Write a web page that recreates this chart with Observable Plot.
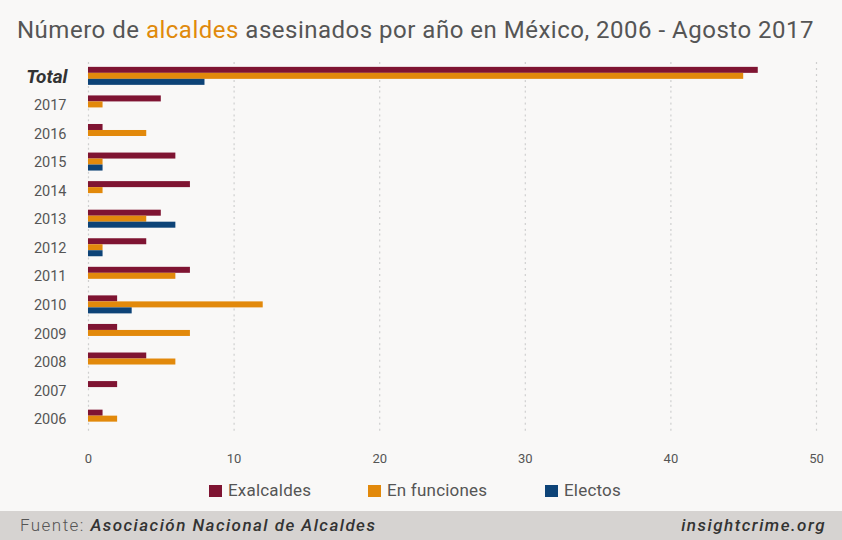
<!DOCTYPE html>
<html>
<head>
<meta charset="utf-8">
<script src="https://cdn.jsdelivr.net/npm/d3@7"></script>
<script src="https://cdn.jsdelivr.net/npm/@observablehq/plot@0.6"></script>
<style>
  html, body { margin: 0; padding: 0; }
  body { width: 842px; height: 540px; position: relative; background: #f9f8f7; font-family: Roboto, sans-serif; overflow: hidden; }
  #title { position: absolute; left: 17px; top: 15px; font-size: 24px; line-height: 30px; letter-spacing: 0.5px; color: #555; white-space: nowrap; }
  #title b { color: #e08a0b; font-weight: 400; }
  #chart { position: absolute; left: 0; top: 60px; }
  #chart svg { display: block; }
  #legend { position: absolute; top: 479px; left: 0; width: 842px; height: 22px; font-size: 17px; color: #555; letter-spacing: 0.2px; }
  .item { position: absolute; top: 0; line-height: 22px; white-space: nowrap; }
  .sw { display: inline-block; width: 13px; height: 12.5px; vertical-align: -1px; margin-right: 6px; }
  #footer { position: absolute; left: 0; top: 511px; width: 842px; height: 29px; background: #d6d3d1; color: #555; font-size: 17px; line-height: 29px; letter-spacing: 1.45px; }
  #footer .src { position: absolute; left: 20px; font-weight: 300; }
  #footer .src i { font-weight: 500; color: #333; }
  #footer .site { position: absolute; right: 16px; font-style: italic; font-weight: 500; color: #333; letter-spacing: 1.5px; }
</style>
</head>
<body>
<div id="title">Número de <b>alcaldes</b> asesinados por año en México, 2006 - Agosto 2017</div>
<div id="chart"></div>
<div id="legend"></div>
<div id="footer"><span class="src">Fuente: <i>Asociación Nacional de Alcaldes</i></span><span class="site">insightcrime.org</span></div>
<script>
const years = ["Total", "2017", "2016", "2015", "2014", "2013", "2012", "2011", "2010", "2009", "2008", "2007", "2006"];
const series = ["Exalcaldes", "En funciones", "Electos"];
const colors = ["#7f1432", "#e2890b", "#0d4377"];
const exalcaldes  = [46, 5, 1, 6, 7, 5, 4, 7, 2, 2, 4, 2, 1];
const enFunciones = [45, 1, 4, 1, 1, 4, 1, 6, 12, 7, 6, 0, 2];
const electos     = [8, 0, 0, 1, 0, 6, 1, 0, 3, 0, 0, 0, 0];
const xTicks = [0, 10, 20, 30, 40, 50];

const valuesBySeries = [exalcaldes, enFunciones, electos];
const rows = [];
years.forEach((year, i) => {
  series.forEach((s, j) => {
    const v = valuesBySeries[j][i];
    if (v > 0) rows.push({year, serie: s, value: v});
  });
});

const chart = Plot.plot({
  width: 842,
  height: 412,
  marginLeft: 88,
  marginRight: 26,
  marginTop: 4,
  marginBottom: 40.5,
  style: {fontFamily: "Roboto, sans-serif", fontSize: "13px", color: "#555", background: "transparent", overflow: "visible"},
  x: {domain: [0, 50], ticks: xTicks, tickSize: 0, tickPadding: 25, label: null},
  y: {domain: series, padding: 0, axis: null},
  fy: {domain: years, paddingInner: 0.335, paddingOuter: 0.1, round: false, axis: null, label: null},
  color: {domain: series, range: colors},
  marks: [
    Plot.ruleX(xTicks, {stroke: "#cfcfcf", strokeDasharray: "2,4", strokeWidth: 1.2, insetTop: -4.8, insetBottom: -4.8}),
    Plot.barX(rows, {fy: "year", y: "serie", x: "value", fill: "serie"}),
    Plot.text(years.filter(d => d !== "Total"), {fy: d => d, text: d => d, frameAnchor: "left", dx: -22, textAnchor: "end", fontSize: 14.5, fill: "#555"}),
    Plot.text(["Total"], {fy: d => d, text: d => d, frameAnchor: "left", dx: -21, textAnchor: "end", fontSize: 19, fontWeight: "bold", fontStyle: "italic", fill: "#333", letterSpacing: "1px"})
  ]
});
document.getElementById("chart").appendChild(chart);

const legend = document.getElementById("legend");
const legendX = [209, 368, 545];
series.forEach((s, i) => {
  const el = document.createElement("div");
  el.className = "item";
  el.style.left = legendX[i] + "px";
  el.innerHTML = `<span class="sw" style="background:${colors[i]}"></span>${s}`;
  legend.appendChild(el);
});
</script>
</body>
</html>
